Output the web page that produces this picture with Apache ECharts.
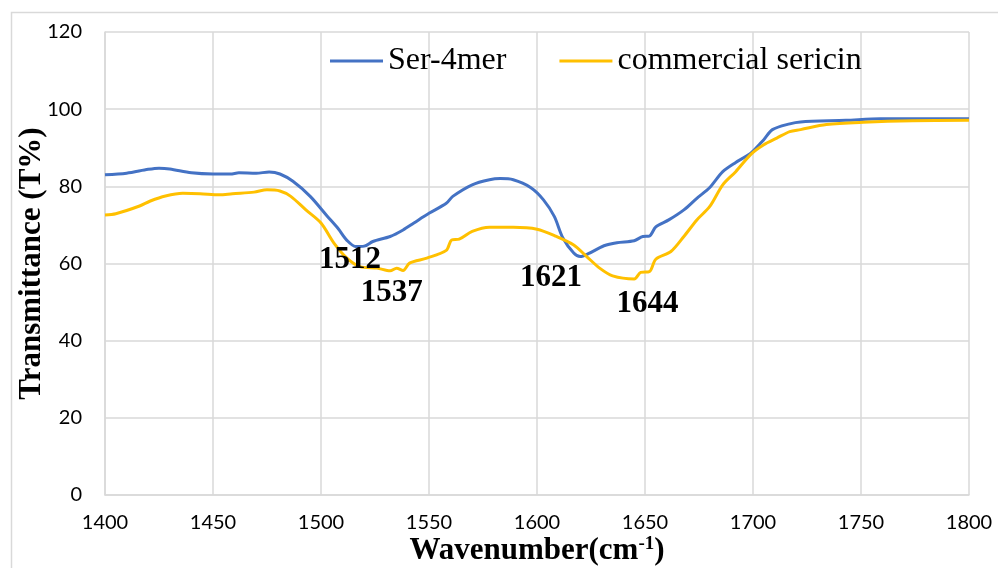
<!DOCTYPE html>
<html>
<head>
<meta charset="utf-8">
<title>FTIR transmittance</title>
<script src="https://cdn.jsdelivr.net/npm/echarts@6/dist/echarts.min.js"></script>
<style>
  html, body { margin: 0; padding: 0; background: #fff; }
  #chart { width: 998px; height: 568px; }
</style>
</head>
<body>
<div id="chart"></div>
<script>
// -- Data --
const serWave = [1400, 1410, 1420, 1425, 1430, 1440, 1450, 1458, 1462, 1470, 1476, 1481, 1487, 1495,
  1503, 1508, 1512, 1516, 1520, 1524, 1532, 1538, 1543, 1550, 1558, 1561, 1570, 1578, 1583, 1589,
  1597, 1603, 1608, 1612, 1617, 1620, 1624, 1631, 1637, 1645, 1649, 1652, 1655, 1661, 1668, 1674,
  1680, 1686, 1692, 1699, 1705, 1709, 1717, 1722, 1743, 1759, 1800];
const serT = [83.0, 83.4, 84.4, 84.7, 84.5, 83.5, 83.2, 83.2, 83.5, 83.4, 83.7, 83.2, 81.3, 77.4,
  72.2, 69.0, 66.0, 64.4, 64.5, 65.7, 67.0, 68.7, 70.5, 73.0, 75.6, 77.4, 80.4, 81.7, 82.0, 81.7,
  79.7, 76.5, 72.2, 66.6, 62.7, 61.8, 62.6, 64.6, 65.4, 65.9, 67.0, 67.1, 69.5, 71.3, 73.9, 76.9,
  79.7, 83.8, 86.2, 88.6, 92.1, 94.7, 96.2, 96.7, 97.1, 97.5, 97.5];

const comWave = [1400, 1405, 1416, 1421, 1428, 1436, 1444, 1453, 1459, 1469, 1475, 1481, 1486, 1493,
  1500, 1506, 1512, 1518, 1526, 1532, 1535, 1538, 1541, 1549, 1558, 1560.5, 1564, 1570, 1578, 1589,
  1600, 1609, 1617, 1623, 1629, 1635, 1645, 1648, 1652, 1655, 1662, 1668, 1674, 1680, 1686, 1692,
  1699, 1705, 1711, 1717, 1722, 1734, 1751, 1774, 1800];
const comT = [72.6, 72.9, 74.9, 76.2, 77.5, 78.2, 78.1, 77.8, 78.1, 78.5, 79.1, 78.8, 77.4, 73.9,
  70.5, 65.3, 61.4, 59.2, 58.8, 58.1, 58.8, 58.2, 60.1, 61.4, 63.4, 66.1, 66.3, 68.3, 69.4, 69.4,
  68.9, 67.0, 64.8, 61.8, 58.8, 56.8, 56.0, 57.7, 57.9, 61.1, 63.1, 67.0, 71.3, 74.8, 80.4, 83.8,
  88.3, 90.8, 92.5, 94.2, 94.7, 96.0, 96.6, 97.0, 97.1];

// Peak annotations (text, anchor in data space)
const peakNames = ['1512', '1537', '1621', '1644'];
const peakX = [1513.4, 1532.7, 1606.5, 1651.2];
const peakY = [60.9, 52.3, 56.3, 49.4];

const seriesNames = ['Ser-4mer', 'commercial sericin'];

const COLORS = {
  blue: '#4472C4',
  gold: '#FFC000',
  grid: '#D9D9D9',
  text: '#000000'
};

const SERIF = "'Liberation Serif', 'Times New Roman', serif";
const SANS = "Lato, 'Liberation Sans', sans-serif";

const pairs = (xs, ys) => xs.map((x, i) => [x, ys[i]]);

const chart = echarts.init(document.getElementById('chart'), null, { renderer: 'canvas' });

chart.setOption({
  animation: false,
  backgroundColor: '#fff',
  graphic: [{
    type: 'rect',
    left: 9, top: 10,
    shape: { width: 1000, height: 600 },
    style: { fill: 'none', stroke: COLORS.grid, lineWidth: 1.5 },
    silent: true
  }],
  grid: { left: 105, right: 29, top: 32, bottom: 73, outerBoundsMode: 'none' },
  legend: {
    left: 330, top: 45, padding: 0,
    icon: 'rect',
    itemWidth: 53, itemHeight: 3, itemGap: 53,
    textStyle: { fontFamily: SERIF, fontSize: 32, color: COLORS.text },
    data: seriesNames
  },
  xAxis: {
    type: 'value', min: 1400, max: 1800, interval: 50,
    name: 'Wavenumber(cm{sup|-1})',
    nameLocation: 'middle', nameGap: 40, nameMoveOverlap: false,
    nameTextStyle: {
      fontFamily: SERIF, fontSize: 31, fontWeight: 'bold', color: COLORS.text,
      rich: { sup: { fontFamily: SERIF, fontSize: 19, fontWeight: 'bold', color: COLORS.text, verticalAlign: 'top', padding: [0, 0, 12, 0] } }
    },
    axisLine: { lineStyle: { color: COLORS.grid, width: 1.5 } },
    axisTick: { show: false },
    axisLabel: { fontFamily: SANS, fontSize: 20, color: COLORS.text, margin: 18, formatter: v => String(v) },
    splitLine: { show: true, lineStyle: { color: COLORS.grid, width: 1.5 } }
  },
  yAxis: {
    type: 'value', min: 0, max: 120, interval: 20,
    name: 'Transmittance (T%)',
    nameLocation: 'middle', nameGap: 58, nameMoveOverlap: false,
    nameTextStyle: { fontFamily: SERIF, fontSize: 31, fontWeight: 'bold', color: COLORS.text },
    axisLine: { show: true, lineStyle: { color: COLORS.grid, width: 1.5 } },
    axisTick: { show: false },
    axisLabel: { fontFamily: SANS, fontSize: 20, color: COLORS.text, margin: 23 },
    splitLine: { show: true, lineStyle: { color: COLORS.grid, width: 1.5 } }
  },
  series: [
    {
      name: seriesNames[0], type: 'line', data: pairs(serWave, serT),
      symbol: 'none', smooth: 0.3,
      lineStyle: { color: COLORS.blue, width: 3 },
      itemStyle: { color: COLORS.blue }
    },
    {
      name: seriesNames[1], type: 'line', data: pairs(comWave, comT),
      symbol: 'none', smooth: 0.3,
      lineStyle: { color: COLORS.gold, width: 3 },
      itemStyle: { color: COLORS.gold },
      markPoint: {
        symbol: 'rect', symbolSize: 1,
        itemStyle: { color: 'rgba(0,0,0,0)' },
        label: {
          show: true, position: 'inside', formatter: '{b}',
          fontFamily: SERIF, fontSize: 31, fontWeight: 'bold', color: COLORS.text
        },
        data: peakNames.map((n, i) => ({ name: n, coord: [peakX[i], peakY[i]] }))
      }
    }
  ]
});
</script>
</body>
</html>
